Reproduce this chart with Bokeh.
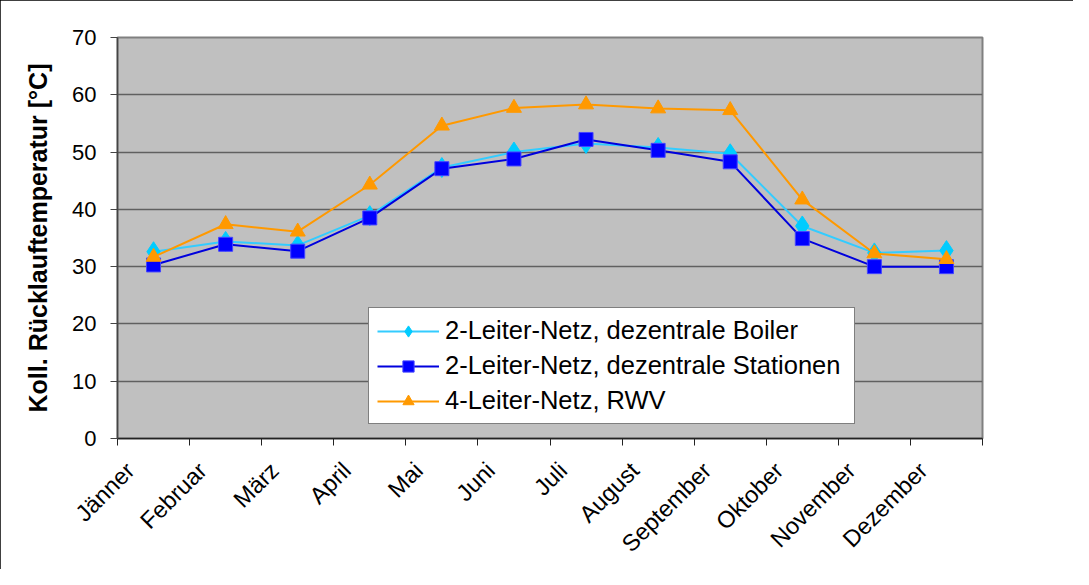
import math
from bokeh.plotting import figure
from bokeh.models import Range1d, FixedTicker, Legend, LegendItem
from bokeh.embed import file_html
from bokeh.resources import INLINE

months = ["Jänner", "Februar", "März", "April", "Mai", "Juni", "Juli",
          "August", "September", "Oktober", "November", "Dezember"]
boiler = [32.6, 34.4, 33.7, 38.9, 47.3, 50.0, 51.5, 50.8, 49.7, 37.1, 32.4, 32.8]
stationen = [30.3, 33.9, 32.7, 38.5, 47.1, 48.8, 52.2, 50.3, 48.3, 34.9, 30.0, 30.0]
rwv = [31.7, 37.4, 36.1, 44.3, 54.6, 57.7, 58.3, 57.6, 57.3, 41.7, 32.3, 31.3]
labels = ["2-Leiter-Netz, dezentrale Boiler",
          "2-Leiter-Netz, dezentrale Stationen",
          "4-Leiter-Netz, RWV"]
y_ticks = [0, 10, 20, 30, 40, 50, 60, 70]

x = [i + 0.5 for i in range(len(months))]
label_pos = [i + 0.18 for i in range(len(months))]

FONT = "Liberation Sans"

p = figure(width=1073, height=569, output_backend="svg", toolbar_location=None,
           x_range=Range1d(0, 12), y_range=Range1d(0, 70),
           min_border_left=117, min_border_right=91,
           min_border_top=37, min_border_bottom=130)
p.styles = {"outline": "2px solid black", "outline-offset": "-2px"}
p.background_fill_color = "#c0c0c0"
p.border_fill_color = "white"
p.outline_line_color = "#808080"
p.outline_line_width = 2

# x axis: category boundaries as (minor) ticks, rotated month labels
p.xaxis.ticker = FixedTicker(ticks=label_pos, minor_ticks=list(range(13)))
p.xaxis.major_label_overrides = {xv: m for xv, m in zip(label_pos, months)}
p.xaxis.major_tick_out = 0
p.xaxis.major_tick_in = 0
p.xaxis.minor_tick_out = 7
p.xaxis.minor_tick_in = 0
p.xaxis.minor_tick_line_color = "#222222"
p.xaxis.axis_line_color = "#222222"
p.xaxis.axis_line_width = 1.5
p.xaxis.major_label_orientation = math.pi / 4
p.xaxis.major_label_text_font = FONT
p.xaxis.major_label_text_font_size = "23.5px"
p.xaxis.major_label_text_color = "black"
p.xaxis.major_label_standoff = 21

p.yaxis.ticker = FixedTicker(ticks=y_ticks, minor_ticks=[])
p.yaxis.major_tick_out = 7
p.yaxis.major_tick_in = 0
p.yaxis.minor_tick_out = 0
p.yaxis.major_tick_line_color = "#444444"
p.yaxis.axis_line_color = "#444444"
p.yaxis.axis_line_width = 1.5
p.yaxis.major_label_text_font = FONT
p.yaxis.major_label_text_font_size = "22px"
p.yaxis.major_label_text_color = "black"
p.yaxis.major_label_standoff = 14
p.yaxis.axis_label = "Koll. Rücklauftemperatur [°C]"
p.yaxis.axis_label_text_font = FONT
p.yaxis.axis_label_text_font_size = "25px"
p.yaxis.axis_label_text_font_style = "bold"
p.yaxis.axis_label_text_color = "black"
p.yaxis.axis_label_standoff = 17

p.xgrid.grid_line_color = None
p.ygrid.grid_line_color = "#606060"
p.ygrid.grid_line_width = 1.5

# series
l1 = p.line(x, boiler, line_color="#33ccff", line_width=2)
s1 = p.scatter(x, boiler, marker="diamond", size=20, fill_color="#00ccff",
               line_color="#00ccff")
l2 = p.line(x, stationen, line_color="#0000dd", line_width=2)
s2 = p.scatter(x, stationen, marker="square", size=14, fill_color="#0000ff",
               line_color="#4444ff", line_width=1)
l3 = p.line(x, rwv, line_color="#ff9900", line_width=2)
s3 = p.scatter(x, rwv, marker="triangle", size=15, fill_color="#ff9900",
               line_color="#ff9900")

legend = Legend(items=[LegendItem(label=labels[0], renderers=[l1, s1]),
                       LegendItem(label=labels[1], renderers=[l2, s2]),
                       LegendItem(label=labels[2], renderers=[l3, s3])],
                location=(251, 14), orientation="vertical")
legend.margin = 0
legend.padding = 8
legend.spacing = 6
legend.glyph_width = 62
legend.glyph_height = 28
legend.label_height = 28
legend.label_width = 401
legend.label_standoff = 6
legend.label_text_font = FONT
legend.label_text_font_size = "25.5px"
legend.label_text_color = "black"
legend.border_line_color = "black"
legend.border_line_width = 1
legend.background_fill_color = "white"
legend.background_fill_alpha = 1
p.add_layout(legend, "center")

open("out.html", "w").write(file_html(p, INLINE))
